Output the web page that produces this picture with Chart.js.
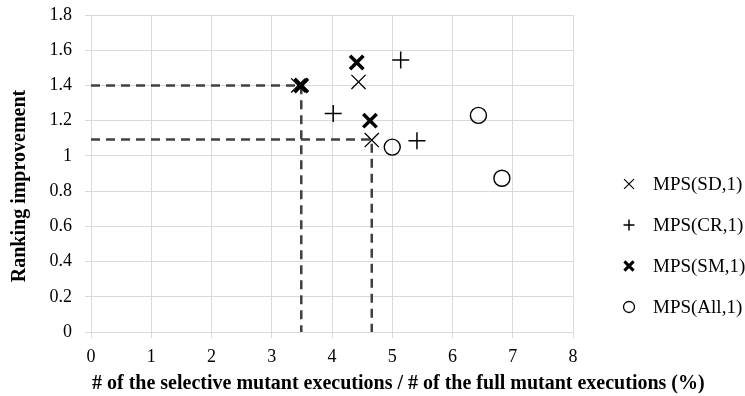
<!DOCTYPE html>
<html>
<head>
<meta charset="utf-8">
<script src="https://cdn.jsdelivr.net/npm/chart.js@4.4.1/dist/chart.umd.min.js"></script>
<style>
  html, body { margin: 0; padding: 0; background: #fff; }
  #wrap { width: 745px; height: 396px; position: relative; }
</style>
</head>
<body>
<div id="wrap"><canvas id="chart"></canvas></div>
<script>
// series labels
const seriesNames = ["MPS(SD,1)", "MPS(CR,1)", "MPS(SM,1)", "MPS(All,1)"];

// x = % of selective / full mutant executions, y = ranking improvement
const sdX = [3.44, 4.44, 4.66];
const sdY = [1.40, 1.42, 1.09];
const crX = [4.02, 5.14, 5.41];
const crY = [1.24, 1.545, 1.086];
const smX = [3.49, 4.41, 4.63];
const smY = [1.40, 1.53, 1.20];
const allX = [5.00, 6.43, 6.82];
const allY = [1.05, 1.23, 0.873];

// dashed guide lines
const guide1X = [0, 3.49, 3.49];
const guide1Y = [1.40, 1.40, 0];
const guide2X = [0, 4.66, 4.66];
const guide2Y = [1.093, 1.093, 0];

const xTicks = [0, 1, 2, 3, 4, 5, 6, 7, 8];
const yTicks = [0, 0.2, 0.4, 0.6, 0.8, 1, 1.2, 1.4, 1.6, 1.8];

const xTitle = "# of the selective mutant executions / # of the full mutant executions (%)";
const yTitle = "Ranking improvement";

const serif = "'Liberation Serif', 'Times New Roman', serif";
const gridColor = "#d9d9d9";

function toPoints(xs, ys) {
  return xs.map((x, i) => ({ x: x, y: ys[i] }));
}

// marker looks for each series (chart / legend)
const markers = [
  { style: "crossRot", radius: 10, width: 1.3, legendRadius: 7, legendWidth: 1.2 },
  { style: "cross", radius: 8.5, width: 1.5, legendRadius: 5.5, legendWidth: 1.5 },
  { style: "crossRot", radius: 9.5, width: 3.5, legendRadius: 6.5, legendWidth: 3 },
  { style: "circle", radius: 8, width: 1.4, legendRadius: 5.5, legendWidth: 1.3 },
];

const pointSets = [
  toPoints(sdX, sdY),
  toPoints(crX, crY),
  toPoints(smX, smY),
  toPoints(allX, allY),
];

const datasets = pointSets.map((pts, i) => ({
  label: seriesNames[i],
  data: pts,
  pointStyle: markers[i].style,
  pointRadius: markers[i].radius,
  pointBorderWidth: markers[i].width,
  borderColor: "#000",
  backgroundColor: "rgba(0,0,0,0)",
  showLine: false,
}));

// guides go after markers so they are painted underneath
[toPoints(guide1X, guide1Y), toPoints(guide2X, guide2Y)].forEach((pts) => {
  datasets.push({
    label: "",
    data: pts,
    showLine: true,
    pointRadius: 0,
    borderColor: "#404040",
    borderWidth: 2.5,
    borderDash: [9, 6],
    fill: false,
  });
});

// legend on the right + the long x title (Chart.js would squeeze it to the axis width)
const extrasPlugin = {
  id: "extras",
  afterDraw(chart) {
    const ctx = chart.ctx;
    const startY = 184;
    const step = 41;
    ctx.save();
    seriesNames.forEach((name, i) => {
      const y = startY + i * step;
      ctx.strokeStyle = "#000";
      ctx.fillStyle = "rgba(0,0,0,0)";
      ctx.lineWidth = markers[i].legendWidth;
      Chart.helpers.drawPoint(ctx, {
        pointStyle: markers[i].style,
        radius: markers[i].legendRadius,
        rotation: 0,
        borderWidth: markers[i].legendWidth,
      }, 629, y);
      ctx.fillStyle = "#000";
      ctx.font = "19px " + serif;
      ctx.textAlign = "left";
      ctx.textBaseline = "middle";
      ctx.fillText(name, 653, y + 1);
    });

    ctx.font = "bold 20px " + serif;
    ctx.textAlign = "left";
    ctx.textBaseline = "middle";
    ctx.fillText(xTitle, chart.chartArea.left + 1, 384);
    ctx.restore();
  },
};

new Chart(document.getElementById("chart"), {
  type: "scatter",
  data: { datasets: datasets },
  options: {
    responsive: true,
    maintainAspectRatio: false,
    animation: false,
    layout: { padding: { top: 15, right: 172, left: 0, bottom: 0 } },
    plugins: {
      legend: { display: false },
      tooltip: { enabled: false },
    },
    scales: {
      x: {
        type: "linear",
        min: 0,
        max: 8,
        afterFit(scale) {
          scale.height = 64;
          scale.paddingLeft = 0;
          scale.paddingRight = 0;
        },
        afterBuildTicks(scale) { scale.ticks = xTicks.map((v) => ({ value: v })); },
        ticks: { color: "#000", padding: 8, font: { family: serif, size: 18 } },
        grid: { color: gridColor, tickLength: 6 },
        border: { color: gridColor },
      },
      y: {
        type: "linear",
        min: 0,
        max: 1.8,
        afterFit(scale) {
          scale.width = 91;
          scale.paddingTop = 0;
          scale.paddingBottom = 0;
        },
        afterBuildTicks(scale) { scale.ticks = yTicks.map((v) => ({ value: v })); },
        ticks: {
          color: "#000",
          padding: 13,
          font: { family: serif, size: 18 },
          callback: (v) => String(Number(v.toFixed(1))),
        },
        grid: { color: gridColor, tickLength: 6 },
        border: { color: gridColor },
        title: {
          display: true,
          // trailing spaces push the centred title a bit down, as in the original
          text: yTitle + "\u00a0\u00a0\u00a0\u00a0\u00a0",
          color: "#000",
          padding: { top: 8, bottom: 0 },
          font: { family: serif, size: 20, weight: "bold" },
        },
      },
    },
  },
  plugins: [extrasPlugin],
});
</script>
</body>
</html>
